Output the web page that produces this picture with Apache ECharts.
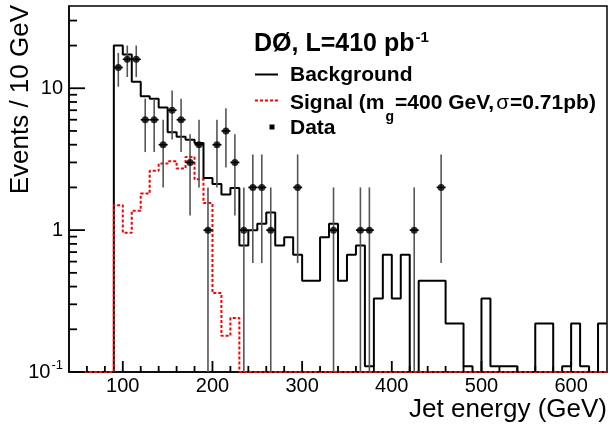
<!DOCTYPE html>
<html><head><meta charset="utf-8">
<script src="https://cdn.jsdelivr.net/npm/echarts@6/dist/echarts.min.js"></script>
<style>html,body{margin:0;padding:0;background:#fff}#c{width:610px;height:424px}</style>
</head><body><div id="c"></div>
<script>
// ---- data (bins of 10 GeV, low edges) ----
const binLow = [90,100,110,120,130,140,150,160,170,180,190,200,210,220,230,240,250,260,270,280,
  290,300,310,320,330,340,350,360,370,380,390,400,410,420,430,440,450,460,470,480,
  490,500,510,520,530,540,550,560,570,580,590,600,610,620,630];
const background = [20.0,17.3,11.1,8.78,8.44,7.33,4.89,4.56,4.33,4.11,
  2.33,2.11,1.78,1.98,0.78,1.0,1.11,1.33,0.78,0.89,
  0.67,0.44,0.44,0.89,1.11,0.44,0.67,0.78,0.11,0.33,
  0.67,0.33,0.67,0,0.44,0.44,0.44,0.22,0.22,0.11,
  0,0.33,0.11,0.11,0.11,0,0,0.22,0.22,0,
  0.11,0.22,0.11,0,0.22];
const signal = [1.50,0.96,1.37,1.81,2.62,2.95,3.06,2.72,3.28,2.28,
  1.55,0.36,0.18,0.24,0,0,0,0,0,0,
  0,0,0,0,0,0,0,0,0,0,
  0,0,0,0,0,0,0,0,0,0,
  0,0,0,0,0,0,0,0,0,0,
  0,0,0,0,0];
const dataCounts = [14,16,16,6,6,4,7,6,3,4,
  1,4,5,3,1,2,2,1,0,0,
  2,0,0,0,1,0,0,1,1,0,
  0,0,0,1,0,0,2,0,0,0,
  0,0,0,0,0,0,0,0,0,0,
  0,0,0,0,0];
const xTickLabels = [100,200,300,400,500,600];
const xTickMinor = [60,80,120,140,160,180,220,240,260,280,320,340,360,380,420,440,460,480,520,540,560,580,620];
const yTickMajor = [0.1,1,10];
const yTickMinor = [0.2,0.3,0.4,0.5,0.6,0.7,0.8,0.9,2,3,4,5,6,7,8,9,20,30];

const X_MIN = 40, X_MAX = 640, Y_MIN = 0.1, Y_MAX = 38, BIN_W = 10;
const F = "'Liberation Sans', Arial, Helvetica, sans-serif";

function stepLine(vals){
  const pts = [[X_MIN, Y_MIN], [binLow[0], Y_MIN]];
  vals.forEach((v, i) => {
    const y = v > 0 ? v : Y_MIN;
    pts.push([binLow[i], y]);
    pts.push([binLow[i] + BIN_W, y]);
  });
  return pts;
}
const errData = [], markData = [];
dataCounts.forEach((n, i) => {
  if (n > 0) {
    const c = binLow[i] + BIN_W / 2, e = Math.sqrt(n);
    errData.push([c, Math.max(n - e, Y_MIN), n + e, n]);
    markData.push([c, n]);
  }
});

const chart = echarts.init(document.getElementById('c'), null, {renderer: 'canvas'});
const option = {
  animation: false,
  backgroundColor: '#fff',
  grid: {left: 69, right: 3, top: 6, bottom: 52, show: true, borderColor: '#000', borderWidth: 1.5, backgroundColor: 'transparent'},
  xAxis: {
    type: 'value', min: X_MIN, max: X_MAX, position: 'bottom',
    axisLine: {show: true, lineStyle: {color: '#000', width: 1.5}},
    axisTick: {show: false},
    axisLabel: {show: true, customValues: xTickLabels, margin: 4, fontSize: 20, color: '#000', fontFamily: F},
    splitLine: {show: false}
  },
  yAxis: {
    type: 'log', logBase: 10, min: Y_MIN, max: Y_MAX, position: 'left',
    axisLine: {show: true, lineStyle: {color: '#000', width: 1.5}},
    axisTick: {show: false},
    axisLabel: {
      show: true, customValues: yTickMajor, margin: 6, color: '#000',
      formatter: v => (Math.abs(v - 0.1) < 1e-9 ? '{m|10}{sup|-1}' : '{m|' + v + '}'),
      rich: {
        m: {fontSize: 20, fontFamily: F, color: '#000', lineHeight: 22},
        sup: {fontSize: 13, fontFamily: F, color: '#000', padding: [0, 0, 13, 1]}
      }
    },
    splitLine: {show: false}
  },
  series: [{
    name: 'Background', type: 'line',
    data: stepLine(background), symbol: 'none', clip: false,
    lineStyle: {color: '#000', width: 2}, z: 3
  }, {
    name: 'Signal', type: 'line',
    data: stepLine(signal), symbol: 'none', clip: false,
    lineStyle: {color: '#ff0000', width: 2, type: [3, 2]}, z: 4
  }, {
    name: 'DataErr', type: 'custom',
    data: errData, encode: {x: 0, y: [1, 2]}, z: 5, clip: false,
    renderItem: (params, api) => {
      const x = api.value(0), lo = api.value(1), hi = api.value(2), n = api.value(3);
      const pt = api.coord([x, hi]), pb = api.coord([x, lo]), pc = api.coord([x, n]);
      return {type: 'group', children: [
        {type: 'line', shape: {x1: pt[0], y1: pt[1], x2: pb[0], y2: pb[1]}, style: {stroke: '#555', lineWidth: 1.6}},
        {type: 'line', shape: {x1: pc[0] - 4.5, y1: pc[1], x2: pc[0] + 4.5, y2: pc[1]}, style: {stroke: '#000', lineWidth: 1.6}}
      ]};
    }
  }, {
    name: 'Data', type: 'scatter',
    data: markData, symbol: 'circle', symbolSize: 7, itemStyle: {color: '#000'}, z: 6
  }],
  graphic: [
    {type: 'text', x: 21, y: 5, rotation: Math.PI / 2,
      style: {text: 'Events / 10 GeV', font: '26px ' + F, fill: '#000', align: 'right', verticalAlign: 'middle', textAlign: 'right', textVerticalAlign: 'middle'}},
    {type: 'text', x: 607, y: 410,
      style: {text: 'Jet energy (GeV)', font: '26px ' + F, fill: '#000', align: 'right', verticalAlign: 'middle', textAlign: 'right', textVerticalAlign: 'middle'}},
    {type: 'text', x: 254, y: 44,
      style: {text: '{t|DØ, L=410 pb}{sup|-1}', align: 'left', verticalAlign: 'middle', textAlign: 'left', textVerticalAlign: 'middle',
        rich: {t: {fontSize: 25, fontWeight: 'bold', fontFamily: F, fill: '#000', lineHeight: 28},
               sup: {fontSize: 15, fontWeight: 'bold', fontFamily: F, fill: '#000', padding: [0, 0, 13, 1]}}}},
    {type: 'line', shape: {x1: 255, y1: 74.5, x2: 278, y2: 74.5}, style: {stroke: '#000', lineWidth: 2}},
    {type: 'line', shape: {x1: 255, y1: 100.5, x2: 278, y2: 100.5}, style: {stroke: '#ff0000', lineWidth: 2, lineDash: [3, 2]}},
    {type: 'rect', shape: {x: 269.5, y: 124.5, width: 5, height: 5}, style: {fill: '#000'}},
    {type: 'text', x: 290, y: 75,
      style: {text: 'Background', font: 'bold 21px ' + F, fill: '#000', align: 'left', verticalAlign: 'middle', textAlign: 'left', textVerticalAlign: 'middle'}},
    {type: 'text', x: 290, y: 103,
      style: {text: '{b|Signal (m}{sub|g}{b|=400 GeV,}{s|σ}{b|=0.71pb)}', align: 'left', verticalAlign: 'middle', textAlign: 'left', textVerticalAlign: 'middle',
        rich: {b: {fontSize: 21, fontWeight: 'bold', fontFamily: F, fill: '#000', lineHeight: 24},
               sub: {fontSize: 14, fontWeight: 'bold', fontFamily: F, fill: '#000', padding: [28, 1, 0, 1]},
               s: {fontSize: 21, fontFamily: F, fill: '#000', padding: [0, 1, 0, 2]}}}},
    {type: 'text', x: 290, y: 128,
      style: {text: 'Data', font: 'bold 21px ' + F, fill: '#000', align: 'left', verticalAlign: 'middle', textAlign: 'left', textVerticalAlign: 'middle'}}
  ]
};
chart.setOption(option);

// tick marks: positions from the chart's own axis scales
const tickEls = [];
const finder = {xAxisIndex: 0, yAxisIndex: 0};
xTickLabels.concat(xTickMinor).forEach(v => {
  const p = chart.convertToPixel(finder, [v, Y_MIN]);
  const L = xTickLabels.indexOf(v) >= 0 ? 11 : 6;
  tickEls.push({type: 'line', z: 100, shape: {x1: p[0], y1: p[1], x2: p[0], y2: p[1] - L}, style: {stroke: '#000', lineWidth: 1.8}});
});
yTickMajor.concat(yTickMinor).forEach(v => {
  const p = chart.convertToPixel(finder, [X_MIN, v]);
  const L = yTickMajor.indexOf(v) >= 0 ? 16 : 8;
  tickEls.push({type: 'line', z: 100, shape: {x1: p[0], y1: p[1], x2: p[0] + L, y2: p[1]}, style: {stroke: '#000', lineWidth: 1.8}});
});
chart.setOption({graphic: option.graphic.concat(tickEls)});
</script></body></html>
